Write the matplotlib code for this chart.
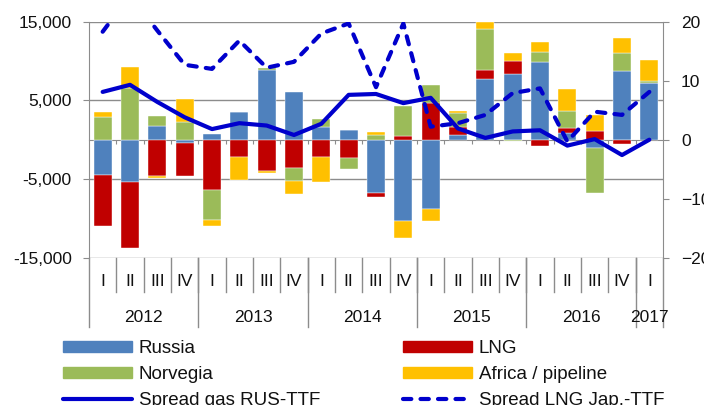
import numpy as np
import matplotlib
matplotlib.use("Agg")
import matplotlib.pyplot as plt
import matplotlib.transforms as mtransforms
from matplotlib.patches import Patch
from matplotlib.lines import Line2D
from matplotlib.ticker import FuncFormatter

plt.rcParams['font.family'] = ['Liberation Sans', 'DejaVu Sans']

# quarterly flows (left axis) and price spreads (right axis)
years = ["2012", "2013", "2014", "2015", "2016", "2017"]
quarters = ["I", "II", "III", "IV"] * 5 + ["I"]

russia = [-4490, -5410, 1780, -380, 690, 3560, 8860, 6100, 1580, 1190, -6810,
          -10330, -8840, 560, 7750, 8390, 9910, 850, -1090, 8730, 7240]
lng = [-6440, -8400, -4570, -4280, -6390, -2160, -3980, -3560, -2160, -2330, -470,
       470, 4630, 1020, 1140, 1610, -780, 640, 1100, -500, 0]
norvegia = [2900, 6530, 1190, 2290, -3810, 0, 300, -1690, 1020, -1440, 560,
            3810, 2290, 1780, 5210, -200, 1230, 2200, -5720, 2250, 210]
africa = [640, 2670, -300, 2850, -720, -3000, -250, -1690, -3220, 0, 420,
          -2120, -1490, 290, 900, 980, 1230, 2760, 2030, 1940, 2710]

spread_rus_ttf = [8.1, 9.3, 6.4, 3.8, 1.8, 2.8, 2.4, 0.8, 2.7, 7.6, 7.75,
                  6.2, 7.1, 1.9, 0.3, 1.4, 1.6, -1.0, 0.1, -2.6, 0.0]
spread_lng_jap = [18.3, 24.5, 18.5, 12.7, 12.0, 16.8, 12.2, 13.2, 18.0, 19.7, 8.9,
                  19.7, 2.2, 2.8, 4.2, 7.9, 8.7, -0.3, 4.75, 4.2, 8.1]

series = [("Russia", russia, "#4F81BD"),
          ("LNG", lng, "#C00000"),
          ("Norvegia", norvegia, "#9BBB59"),
          ("Africa / pipeline", africa, "#FFC000")]
line_color = "#0000CC"
grid_color = "#8C8C8C"
text_color = "#111111"

fig = plt.figure(figsize=(7.04, 4.05), dpi=100)
ax = fig.add_axes([89 / 704, 1 - 257.7 / 405, (663 - 89) / 704, (257.7 - 21.7) / 405])
x = np.arange(len(quarters))

# stacked bars, positives and negatives piled separately
pos = np.zeros(len(x))
neg = np.zeros(len(x))
for name, vals, col in series:
    v = np.array(vals, dtype=float)
    bottom = np.where(v >= 0, pos, neg)
    ax.bar(x, v, 0.65, bottom=bottom, color=col, edgecolor="white", linewidth=0.3, zorder=2)
    pos += np.where(v >= 0, v, 0)
    neg += np.where(v < 0, v, 0)

ax.set_xlim(-0.5, len(x) - 0.5)
ax.set_ylim(-15000, 15000)
ax.set_yticks([-15000, -5000, 5000, 15000])
ax.yaxis.set_major_formatter(FuncFormatter(lambda v, p: f"{v:,.0f}"))
ax.grid(axis="y", color=grid_color, linewidth=1.0, zorder=0)
ax.set_axisbelow(True)

ax.spines["top"].set_visible(False)
ax.spines["right"].set_visible(False)
ax.spines["bottom"].set_position(("data", 0))
ax.spines["bottom"].set_color(grid_color)
ax.spines["bottom"].set_zorder(1)
ax.spines["left"].set_color(grid_color)
ax.set_xticks(x[:-1] + 0.5)
ax.tick_params(axis="x", direction="out", length=3, color=grid_color, labelbottom=False)
ax.tick_params(axis="y", direction="out", length=4.5, color=grid_color, pad=8,
               labelsize=12.5, labelcolor=text_color)

# spreads on the secondary axis
ax2 = ax.twinx()
ax2.set_ylim(-20, 20)
ax2.set_yticks([-20, -10, 0, 10, 20])
ax2.plot(x, spread_rus_ttf, color=line_color, linewidth=3, solid_capstyle="round", zorder=3)
ax2.plot(x, spread_lng_jap, color=line_color, linewidth=3, linestyle=(0, (2.0, 2.2)),
         dash_capstyle="round", zorder=3)
for s in ["top", "bottom", "left"]:
    ax2.spines[s].set_visible(False)
ax2.spines["right"].set_color(grid_color)
ax2.tick_params(axis="y", direction="out", length=4, color=grid_color, pad=9,
                labelsize=12.5, labelcolor=text_color)

# two-level category axis under the plot
trans = mtransforms.blended_transform_factory(ax.transData, ax.transAxes)
for i, q in enumerate(quarters):
    ax.text(i, -0.10, q, transform=trans, ha="center", va="center", fontsize=12.5, color=text_color)
for i in range(1, len(x)):
    ax.plot([i - 0.5, i - 0.5], [0, -0.145], transform=trans, color=grid_color,
            linewidth=1.0, clip_on=False)
year_edges = [-0.5, 3.5, 7.5, 11.5, 15.5, 19.5, 20.5]
for e in year_edges:
    ax.plot([e, e], [0, -0.295], transform=trans, color=grid_color, linewidth=1.0, clip_on=False)
for k, yr in enumerate(years):
    ax.text((year_edges[k] + year_edges[k + 1]) / 2, -0.252, yr, transform=trans,
            ha="center", va="center", fontsize=12.5, color=text_color)

handles = [Patch(color="#4F81BD"), Patch(color="#9BBB59"),
           Line2D([], [], color=line_color, linewidth=3, solid_capstyle="round"),
           Patch(color="#C00000"), Patch(color="#FFC000"),
           Line2D([], [], color=line_color, linewidth=3, linestyle=(0, (2.0, 2.2)),
                  dash_capstyle="round")]
labels = ["Russia", "Norvegia", "Spread gas RUS-TTF",
          "LNG", "Africa / pipeline", "Spread LNG Jap.-TTF"]
leg = fig.legend(handles, labels, ncol=2, loc="upper left",
                 bbox_to_anchor=(63 / 704, 1 - 340 / 405),
                 frameon=False, fontsize=13.5, handlelength=3.68, handleheight=0.48,
                 handletextpad=0.37, columnspacing=4.4, labelspacing=0.48, borderpad=0,
                 borderaxespad=0)
for t in leg.get_texts():
    t.set_color(text_color)

fig.savefig("out.png", dpi=100)
